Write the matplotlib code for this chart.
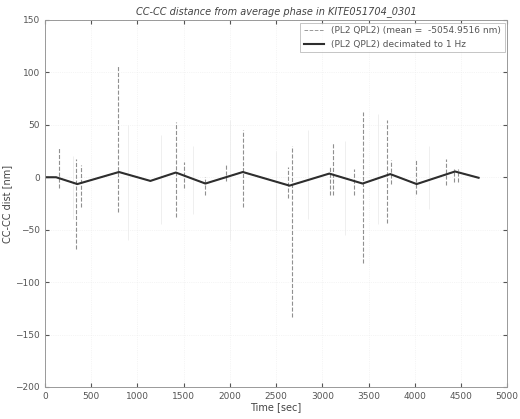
import matplotlib.pyplot as plt

# decimated (1 Hz) trace, read at its corners
dec_t = [0, 120, 350, 800, 1140, 1415, 1735, 2140, 2645, 3075, 3435, 3735, 4020, 4435, 4690]
dec_y = [0, 0, -6.5, 5, -3.5, 4.5, -6, 5, -8, 3.5, -6, 3, -6.5, 5.5, -0.5]

# raw data spikes: time, top, bottom
spk_t = [154, 340, 386, 794, 1420, 1509, 1735, 1953, 2139, 2629, 2672, 3087, 3119, 3344, 3444, 3702, 3745, 4013, 4335, 4420, 4470]
spk_hi = [29, 17, 12, 106, 53, 15, 0, 12, 45, 10, 30, 10, 34, 8, 62, 55, 16, 17, 17, 8, 8]
spk_lo = [-10, -68, -28, -33, -38, -10, -17, -4, -28, -20, -133, -17, -17, -17, -82, -44, -6, -16, -7, -5, -5]

# faint raw excursions barely visible in the scan
faint_t = [300, 900, 1250, 1600, 2000, 2500, 2850, 3250, 3600, 4150]
faint_hi = [20, 50, 40, 30, 55, 25, 45, 35, 60, 30]
faint_lo = [-40, -60, -45, -35, -60, -50, -40, -55, -45, -30]

fig = plt.figure(figsize=(5.2, 4.19), dpi=100)
ax = fig.add_axes([0.0865, 0.0764, 0.889, 0.876])

ax.vlines(faint_t, faint_lo, faint_hi, colors='#ececec', linewidth=0.6)
raw_line, = ax.plot(dec_t, dec_y, color='#999999', linestyle='--', linewidth=0.7,
                    label='(PL2 QPL2) (mean =  -5054.9516 nm)')
ax.vlines(spk_t, spk_lo, spk_hi, colors='#909090', linestyles='--', linewidth=0.8)
dec_line, = ax.plot(dec_t, dec_y, color='#2e2e2e', linewidth=1.5,
                    label='(PL2 QPL2) decimated to 1 Hz')

ax.set_xlim(0, 5000)
ax.set_ylim(-200, 150)
ax.set_xticks(range(0, 5001, 500))
ax.set_yticks(range(-200, 151, 50))
ax.tick_params(direction='in', labelsize=6.5, colors='#555555', length=3,
               top=True, right=True)
for s in ax.spines.values():
    s.set_color('#999999')
    s.set_linewidth(0.7)
ax.grid(True, linestyle=':', color='#ececec', linewidth=0.5)

ax.set_title('CC-CC distance from average phase in KITE051704_0301',
             fontsize=7, style='italic', color='#444444', pad=4)
ax.set_xlabel('Time [sec]', fontsize=7, color='#444444', labelpad=1)
ax.set_ylabel('CC-CC dist [nm]', fontsize=7, color='#444444', labelpad=2)

leg = ax.legend(handles=[raw_line, dec_line], loc='upper right', fontsize=6.5,
                frameon=True, fancybox=False, handlelength=2.2,
                borderaxespad=0.3, labelcolor='#555555')
leg.get_frame().set_edgecolor('#aaaaaa')
leg.get_frame().set_linewidth(0.6)

fig.savefig('out.png', dpi=100)
